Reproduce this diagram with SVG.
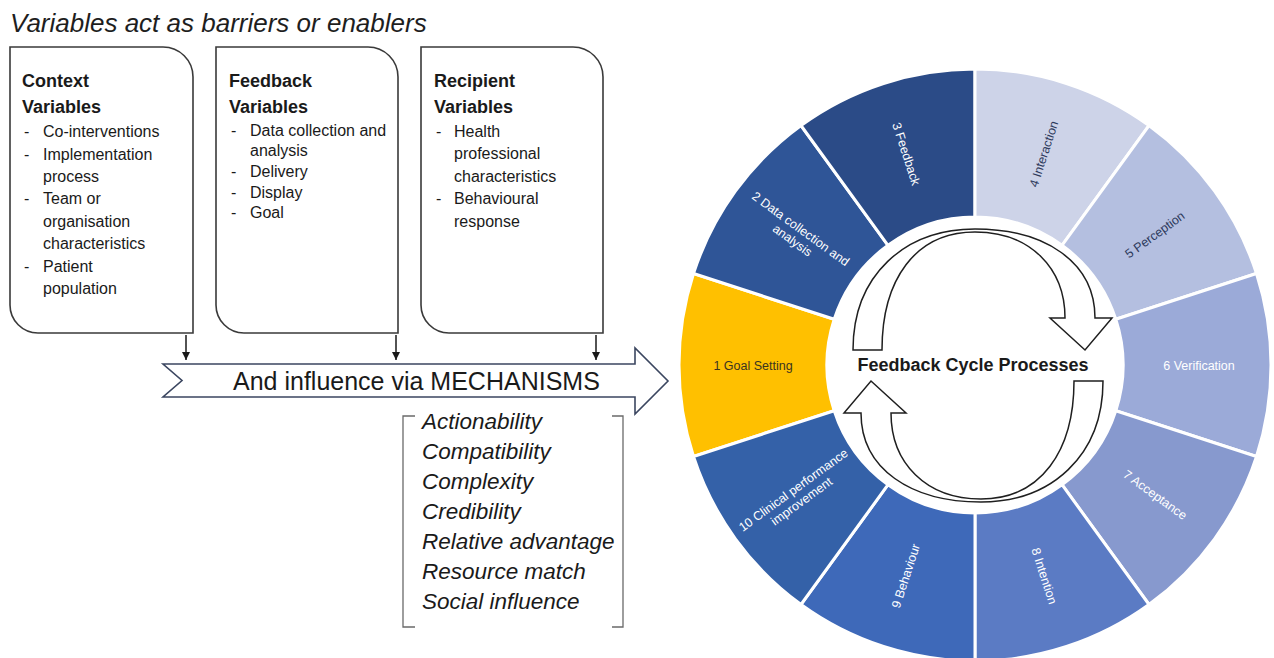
<svg xmlns="http://www.w3.org/2000/svg" width="1274" height="658" viewBox="0 0 1274 658">
  <style>
    .box{fill:#fff;stroke:#3a3a3a;stroke-width:1.6}
    .ttl{font-family:"Liberation Sans",Arial,sans-serif;font-style:italic;font-size:26px;fill:#1e1e1e}
    .hd{font-family:"Liberation Sans",Arial,sans-serif;font-weight:bold;font-size:18px;fill:#1a1a1a}
    .it{font-family:"Liberation Sans",Arial,sans-serif;font-size:16px;fill:#1a1a1a}
    .seg{stroke:#fff;stroke-width:3}
    .lbl{font-family:"Liberation Sans",Arial,sans-serif;font-size:12.5px;text-anchor:middle;fill:#fff}
    .dk{fill:#2d3a5c}
    .mech{font-family:"Liberation Sans",Arial,sans-serif;font-style:italic;font-size:22.5px;fill:#1a1a1a}
    .conn{stroke:#1a1a1a;stroke-width:1.5;fill:none}
    .cyc{fill:#fff;stroke:#1f1f1f;stroke-width:1.5}
    .brk{fill:none;stroke:#6a6a6a;stroke-width:1.3}
  </style>
  <defs>
    <marker id="ah" viewBox="0 0 10 10" refX="10" refY="5" markerWidth="8" markerHeight="8" markerUnits="userSpaceOnUse" orient="auto">
      <path d="M0,0 L10,5 L0,10 Z" fill="#1a1a1a"/>
    </marker>
  </defs>

  <text class="ttl" x="10" y="32">Variables act as barriers or enablers</text>

  <!-- variable boxes -->
  <g id="context-box">
    <path class="box" d="M10,47 L163,47 A30,30 0 0 1 193,77 L193,333 L38,333 A28,28 0 0 1 10,305 Z"/>
    <text class="hd" x="22" y="87">Context</text>
    <text class="hd" x="22" y="113">Variables</text>
    <g class="it">
      <text x="24" y="137">-</text><text x="43" y="137">Co-interventions</text>
      <text x="24" y="160">-</text><text x="43" y="160">Implementation</text>
      <text x="43" y="182">process</text>
      <text x="24" y="204">-</text><text x="43" y="204">Team or</text>
      <text x="43" y="227">organisation</text>
      <text x="43" y="249">characteristics</text>
      <text x="24" y="272">-</text><text x="43" y="272">Patient</text>
      <text x="43" y="294">population</text>
    </g>
  </g>

  <g id="feedback-box">
    <path class="box" d="M216,47 L368,47 A30,30 0 0 1 398,77 L398,333 L244,333 A28,28 0 0 1 216,305 Z"/>
    <text class="hd" x="229" y="87">Feedback</text>
    <text class="hd" x="229" y="113">Variables</text>
    <g class="it">
      <text x="231" y="136">-</text><text x="250" y="136">Data collection and</text>
      <text x="250" y="156">analysis</text>
      <text x="231" y="177">-</text><text x="250" y="177">Delivery</text>
      <text x="231" y="198">-</text><text x="250" y="198">Display</text>
      <text x="231" y="218">-</text><text x="250" y="218">Goal</text>
    </g>
  </g>

  <g id="recipient-box">
    <path class="box" d="M421,47 L573,47 A30,30 0 0 1 603,77 L603,333 L449,333 A28,28 0 0 1 421,305 Z"/>
    <text class="hd" x="434" y="87">Recipient</text>
    <text class="hd" x="434" y="113">Variables</text>
    <g class="it">
      <text x="436" y="137">-</text><text x="454" y="137">Health</text>
      <text x="454" y="159">professional</text>
      <text x="454" y="182">characteristics</text>
      <text x="436" y="204">-</text><text x="454" y="204">Behavioural</text>
      <text x="454" y="227">response</text>
    </g>
  </g>

  <!-- connectors -->
  <g id="connectors">
    <line class="conn" x1="186" y1="335" x2="186" y2="360" marker-end="url(#ah)"/>
    <line class="conn" x1="396" y1="335" x2="396" y2="360" marker-end="url(#ah)"/>
    <line class="conn" x1="596" y1="335" x2="596" y2="360" marker-end="url(#ah)"/>
  </g>

  <!-- mechanisms banner -->
  <g id="mechanisms-arrow">
    <path d="M163,364 L635,364 L635,348 L668,381 L635,414 L635,397 L163,397 L182,380.5 Z" fill="#fff" stroke="#3b4660" stroke-width="1.6"/>
    <text x="233" y="390" font-family="Liberation Sans, Arial, sans-serif" font-size="25" fill="#1a1a1a">And influence via MECHANISMS</text>
  </g>

  <g id="mechanisms-list">
    <path class="brk" d="M415,416 L403,416 L403,627 L415,627"/>
    <path class="brk" d="M612,416 L623,416 L623,627 L612,627"/>
    <text class="mech" x="422" y="429">Actionability</text>
    <text class="mech" x="422" y="459">Compatibility</text>
    <text class="mech" x="422" y="489">Complexity</text>
    <text class="mech" x="422" y="519">Credibility</text>
    <text class="mech" x="422" y="549">Relative advantage</text>
    <text class="mech" x="422" y="579">Resource match</text>
    <text class="mech" x="422" y="609">Social influence</text>
  </g>

  <!-- feedback cycle wheel -->
  <g id="seg1">
    <path class="seg" fill="#FFC000" d="M693.5,456.5 A296,296 0 0 1 693.5,273.5 L834.2,319.3 A148,148 0 0 0 834.2,410.7 Z"/>
    <text class="lbl" x="753" y="370" style="fill:#3b3420">1 Goal Setting</text>
  </g>
  <g id="seg2">
    <path class="seg" fill="#2F5597" d="M693.5,273.5 A296,296 0 0 1 801,125.5 L888,245.3 A148,148 0 0 0 834.2,319.3 Z"/>
    <text class="lbl" transform="translate(797,234) rotate(36)"><tspan x="0" y="-2">2 Data collection and</tspan><tspan x="0" y="12">analysis</tspan></text>
  </g>
  <g id="seg3">
    <path class="seg" fill="#2B4B87" d="M801,125.5 A296,296 0 0 1 975,69 L975,217 A148,148 0 0 0 888,245.3 Z"/>
    <text class="lbl" transform="translate(906,154) rotate(72)" y="4">3 Feedback</text>
  </g>
  <g id="seg4">
    <path class="seg" fill="#CDD3E8" d="M975,69 A296,296 0 0 1 1149,125.5 L1062,245.3 A148,148 0 0 0 975,217 Z"/>
    <text class="lbl dk" transform="translate(1044,154) rotate(-72)" y="4">4 Interaction</text>
  </g>
  <g id="seg5">
    <path class="seg" fill="#B4BFE0" d="M1149,125.5 A296,296 0 0 1 1256.5,273.5 L1115.8,319.3 A148,148 0 0 0 1062,245.3 Z"/>
    <text class="lbl dk" transform="translate(1155,235) rotate(-36)" y="4">5 Perception</text>
  </g>
  <g id="seg6">
    <path class="seg" fill="#9BAAD8" d="M1256.5,273.5 A296,296 0 0 1 1256.5,456.5 L1115.8,410.7 A148,148 0 0 0 1115.8,319.3 Z"/>
    <text class="lbl" x="1199" y="370">6 Verification</text>
  </g>
  <g id="seg7">
    <path class="seg" fill="#8799CE" d="M1256.5,456.5 A296,296 0 0 1 1149,604.5 L1062,484.7 A148,148 0 0 0 1115.8,410.7 Z"/>
    <text class="lbl" transform="translate(1155,495) rotate(36)" y="4">7 Acceptance</text>
  </g>
  <g id="seg8">
    <path class="seg" fill="#5B7BC4" d="M1149,604.5 A296,296 0 0 1 975,661 L975,513 A148,148 0 0 0 1062,484.7 Z"/>
    <text class="lbl" transform="translate(1044,576) rotate(72)" y="4">8 Intention</text>
  </g>
  <g id="seg9">
    <path class="seg" fill="#3E69B9" d="M975,661 A296,296 0 0 1 801,604.5 L888,484.7 A148,148 0 0 0 975,513 Z"/>
    <text class="lbl" transform="translate(906,576) rotate(-72)" y="4">9 Behaviour</text>
  </g>
  <g id="seg10">
    <path class="seg" fill="#3461A8" d="M801,604.5 A296,296 0 0 1 693.5,456.5 L834.2,410.7 A148,148 0 0 0 888,484.7 Z"/>
    <text class="lbl" transform="translate(797,495) rotate(-36)"><tspan x="0" y="-2">10 Clinical performance</tspan><tspan x="0" y="12">improvement</tspan></text>
  </g>

  <!-- centre: cycle arrows and title -->
  <g id="cycle-centre">
    <path class="cyc" d="M853,350 C853,275 905,229 975,229 C1045,229 1095,262 1095,318 L1112,318 L1085,350 L1050,318 L1065,318 C1065,268 1030,232 975,232 C915,232 882,280 882,350 Z"/>
    <path class="cyc" transform="translate(6,1) rotate(180 975 365)" d="M853,350 C853,275 905,229 975,229 C1045,229 1095,262 1095,318 L1112,318 L1085,350 L1050,318 L1065,318 C1065,268 1030,232 975,232 C915,232 882,280 882,350 Z"/>
    <text x="973" y="371" text-anchor="middle" font-family="Liberation Sans, Arial, sans-serif" font-weight="bold" font-size="18" fill="#1a1a1a">Feedback Cycle Processes</text>
  </g>
</svg>
